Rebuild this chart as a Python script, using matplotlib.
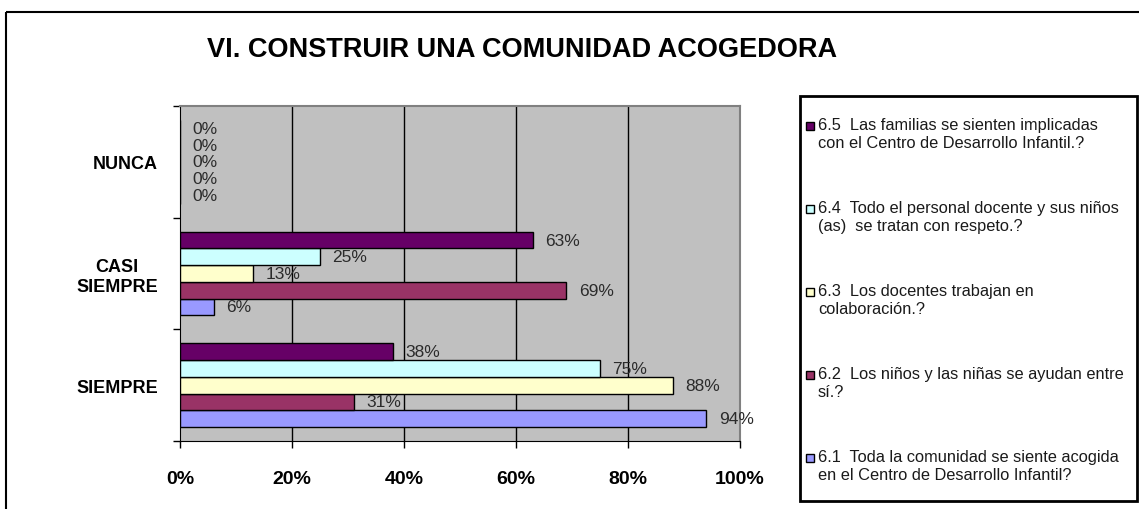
import numpy as np
import matplotlib
matplotlib.use("Agg")
import matplotlib.pyplot as plt
from matplotlib.patches import Rectangle

# data
categories = ["SIEMPRE", "CASI\nSIEMPRE", "NUNCA"]
series = ["6.1  Toda la comunidad se siente acogida\nen el Centro de Desarrollo Infantil?",
          "6.2  Los niños y las niñas se ayudan entre\nsí.?",
          "6.3  Los docentes trabajan en\ncolaboración.?",
          "6.4  Todo el personal docente y sus niños\n(as)  se tratan con respeto.?",
          "6.5  Las familias se sienten implicadas\ncon el Centro de Desarrollo Infantil.?"]
colors = ["#9999FF", "#993366", "#FFFFCC", "#CCFFFF", "#660066"]
# percent per series, in category order (SIEMPRE, CASI SIEMPRE, NUNCA)
v61 = [94, 6, 0]
v62 = [31, 69, 0]
v63 = [88, 13, 0]
v64 = [75, 25, 0]
v65 = [38, 63, 0]
values = [v61, v62, v63, v64, v65]
xticks = [0, 20, 40, 60, 80, 100]

W, H = 1139, 510
plt.rcParams['font.family'] = ['Liberation Sans', 'DejaVu Sans']
fig = plt.figure(figsize=(W / 100, H / 100), dpi=100)

# plot area in pixels
px0, px1, py0, py1 = 180, 740, 107, 442
ax = fig.add_axes([px0 / W, 1 - py1 / H, (px1 - px0) / W, (py1 - py0) / H])
ax.set_facecolor("#C0C0C0")

bh = 0.15
y = np.arange(len(categories))
for i, vals in enumerate(values):
    pos = y + (i - 2) * bh
    ax.barh(pos, vals, height=bh, color=colors[i], edgecolor="black", linewidth=1, zorder=3)
    for p, v in zip(pos, vals):
        ax.annotate("%d%%" % v, (v, p), xytext=(9, 0), textcoords="offset points",
                    ha="left", va="center", fontsize=12.5, color="#2b2b2b", zorder=4)

ax.set_xlim(0, 100)
ax.set_ylim(-0.5, 2.5)
for g in xticks[1:-1]:
    ax.axvline(g, color="black", lw=1, zorder=1)

ax.set_xticks(xticks)
ax.set_xticklabels(["%d%%" % t for t in xticks], fontsize=14, fontweight="bold")
ax.tick_params(axis="x", direction="out", length=5, width=1, pad=16)
ax.set_yticks(y)
ax.set_yticklabels(categories, fontsize=13, fontweight="bold", multialignment="center")
ax.tick_params(axis="y", length=0, pad=16)
ax.set_yticks([-0.5, 0.5, 1.5, 2.5], minor=True)
ax.tick_params(axis="y", which="minor", direction="out", length=5, width=1)

ax.spines["left"].set_color("black")
ax.spines["bottom"].set_color("black")
ax.spines["top"].set_color("#808080")
ax.spines["right"].set_color("#808080")
ax.spines["top"].set_linewidth(1.5)
ax.spines["right"].set_linewidth(1.5)

# overlay in pixel coordinates for frame, title and legend
ov = fig.add_axes([0, 0, 1, 1], zorder=-1)
ov.set_xlim(0, W)
ov.set_ylim(H, 0)
ov.axis("off")
ov.add_patch(Rectangle((6, 13), W + 20, H + 20, fill=False, ec="black", lw=1.5))
ov.text(522, 50, "VI. CONSTRUIR UNA COMUNIDAD ACOGEDORA", ha="center", va="center",
        fontsize=19.5, fontweight="bold")

lg = fig.add_axes([0, 0, 1, 1], zorder=5)
lg.set_xlim(0, W)
lg.set_ylim(H, 0)
lg.axis("off")
lg.add_patch(Rectangle((800, 97), 337, 405, fill=False, ec="black", lw=2))
for k in range(len(series)):
    i = len(series) - 1 - k
    yy = 127 + k * 83
    lg.add_patch(Rectangle((806, yy - 4), 8, 8, fc=colors[i], ec="black", lw=1))
    lg.text(818, yy - 9, series[i], ha="left", va="top", fontsize=11.8,
            color="#1a1a1a", linespacing=1.25)

fig.savefig("out.png", dpi=100)
